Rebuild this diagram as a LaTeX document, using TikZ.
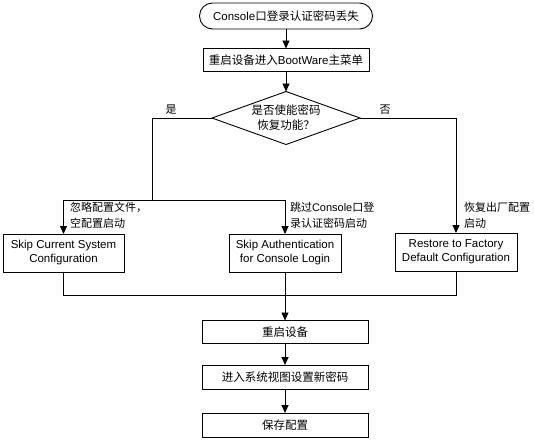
\documentclass[tikz,border=0pt]{standalone}
\usepackage{fontspec}
\setmainfont{Liberation Sans}
\newfontfamily\cjk{Noto Sans CJK SC}
\usetikzlibrary{arrows.meta,shapes.geometric}
\newcommand{\zh}[1]{{\cjk #1}}
\begin{document}
\begin{tikzpicture}[x=1pt,y=-1pt,
  every node/.style={inner sep=0pt, outer sep=0pt},
  lw/.style={line width=0.9pt},
  arr/.style={lw,-{Triangle[length=8pt,width=7pt]}},
  stepbox/.style={draw,lw,rectangle,font=\fontsize{11.5}{14}\selectfont,align=center},
  lbl/.style={font=\fontsize{11}{16.5}\selectfont,align=left,anchor=north west}]
\useasboundingbox (0,0) rectangle (534,440);
\node[stepbox,rounded corners=13pt,minimum width=173pt,minimum height=26pt] (start) at (286,16) {Console\zh{口登录认证密码丢失}};
\node[stepbox,minimum width=166pt,minimum height=23pt] (boot) at (286,60) {\zh{重启设备进入}BootWare\zh{主菜单}};
\node[draw,lw,diamond,aspect=2.8,minimum width=148pt,minimum height=53pt,font=\fontsize{11.5}{15}\selectfont,align=center] (dec) at (286,118) {\zh{是否使能密码}\\\zh{恢复功能？}};
\node[stepbox,minimum width=121pt,minimum height=38pt] (box1) at (63.5,253) {Skip Current System\\Configuration};
\node[stepbox,minimum width=112pt,minimum height=38pt] (box2) at (285,253) {Skip Authentication\\for Console Login};
\node[stepbox,minimum width=122pt,minimum height=38pt] (box3) at (456,252) {Restore to Factory\\Default Configuration};
\node[stepbox,minimum width=166pt,minimum height=23pt] (reboot) at (285,332) {\zh{重启设备}};
\node[stepbox,minimum width=166pt,minimum height=24pt] (enter) at (285,377) {\zh{进入系统视图设置新密码}};
\node[stepbox,minimum width=166pt,minimum height=24pt] (save) at (285,425) {\zh{保存配置}};
% labels
\node[font=\fontsize{11}{13}\selectfont] (yes) at (171,110) {\zh{是}};
\node[font=\fontsize{11}{13}\selectfont] (no) at (385,110) {\zh{否}};
\node[lbl] (l1) at (70,202) {\zh{忽略配置文件，}\\\zh{空配置启动}};
\node[lbl] (l2) at (290,202) {\zh{跳过}Console\zh{口登}\\\zh{录认证密码启动}};
\node[lbl] (l3) at (464,202) {\zh{恢复出厂配置}\\\zh{启动}};
% connectors
\draw[arr] (start) -- (boot);
\draw[arr] (boot) -- (dec);
\coordinate (jl) at (152,200);
\coordinate (b1t) at (box1.north |- jl);
\coordinate (b2t) at (box2.north |- jl);
\draw[lw] (dec.west) -| (jl);
\draw[lw] (b1t) -- (b2t);
\draw[arr] (b1t) -- (box1.north);
\draw[arr] (b2t) -- (box2.north);
\draw[arr] (dec.east) -| (box3.north);
\coordinate (jb) at (285,295);
\draw[lw] (box1.south) |- (jb);
\draw[lw] (box3.south) |- (jb);
\draw[lw] (box2.south) -- (jb);
\draw[arr] (jb) -- (reboot.north);
\draw[arr] (reboot) -- (enter);
\draw[arr] (enter) -- (save);
\end{tikzpicture}
\end{document}
